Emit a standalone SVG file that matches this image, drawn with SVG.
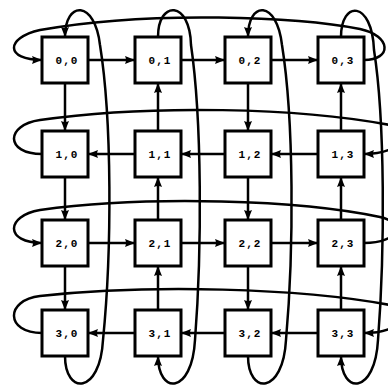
<svg xmlns="http://www.w3.org/2000/svg" width="388" height="388" viewBox="0 0 388 388">
<style>
.e{fill:none;stroke:#000;stroke-width:2.5;marker-end:url(#ah)}
.b{fill:#fff;stroke:#000;stroke-width:3}
.t{font-family:"Liberation Mono",monospace;font-weight:bold;font-size:11px;letter-spacing:1px;text-anchor:middle;fill:#000}
</style>
<defs>
<marker id="ah" markerUnits="userSpaceOnUse" markerWidth="11" markerHeight="9" refX="10" refY="4.5" orient="auto">
<path d="M0,0.5 L10,4.5 L0,8.5 Q2,4.5 0,0.5z" fill="#000"/>
</marker>
</defs>
<rect width="388" height="388" fill="#fff"/>
<g id="connectors">
<path class="e" d="M88,60 L135,60"/><path class="e" d="M181,60 L225,60"/><path class="e" d="M271,60 L318,60"/>
<path class="e" d="M135,154 L88,154"/><path class="e" d="M225,154 L181,154"/><path class="e" d="M318,154 L271,154"/>
<path class="e" d="M88,243 L135,243"/><path class="e" d="M181,243 L225,243"/><path class="e" d="M271,243 L318,243"/>
<path class="e" d="M135,333 L88,333"/><path class="e" d="M225,333 L181,333"/><path class="e" d="M318,333 L271,333"/>
<path class="e" d="M65,83 L65,131"/><path class="e" d="M65,177 L65,220"/><path class="e" d="M65,266 L65,310"/>
<path class="e" d="M158,131 L158,83"/><path class="e" d="M158,220 L158,177"/><path class="e" d="M158,310 L158,266"/>
<path class="e" d="M248,83 L248,131"/><path class="e" d="M248,177 L248,220"/><path class="e" d="M248,266 L248,310"/>
<path class="e" d="M341,131 L341,83"/><path class="e" d="M341,220 L341,177"/><path class="e" d="M341,310 L341,266"/>
<path class="e" d="M364,60 C392,60 392,36 360,29 C300,17 150,10 40,30 C5,38 5,60 42,60"/>
<path class="e" d="M42,154 C5,154 5,125 40,120 C150,104 300,108 390,125 C410,130 405,154 364,154"/>
<path class="e" d="M364,243 C400,243 405,222 380,217 C300,200 150,195 40,210 C5,216 5,243 42,243"/>
<path class="e" d="M42,333 C5,333 5,300 40,296 C150,284 300,288 390,305 C410,310 405,333 364,333"/>
<path class="e" d="M65,356 C65,395 100,395 103,340 C112,250 112,120 100,45 C95,0 65,0 65,37"/>
<path class="e" d="M158,37 C158,0 190,0 191,45 C202,120 202,250 195,340 C192,395 158,395 158,356"/>
<path class="e" d="M248,356 C248,395 283,395 286,340 C294,250 294,120 282,45 C277,0 248,0 248,37"/>
<path class="e" d="M341,37 C341,0 372,0 374,50 C385,120 385,250 378,340 C375,395 341,395 341,356"/>
</g>
<g id="n00"><rect class="b" x="42" y="37" width="46" height="46"/><text class="t" x="67" y="64">0,0</text></g>
<g id="n01"><rect class="b" x="135" y="37" width="46" height="46"/><text class="t" x="160" y="64">0,1</text></g>
<g id="n02"><rect class="b" x="225" y="37" width="46" height="46"/><text class="t" x="250" y="64">0,2</text></g>
<g id="n03"><rect class="b" x="318" y="37" width="46" height="46"/><text class="t" x="343" y="64">0,3</text></g>
<g id="n10"><rect class="b" x="42" y="131" width="46" height="46"/><text class="t" x="67" y="158">1,0</text></g>
<g id="n11"><rect class="b" x="135" y="131" width="46" height="46"/><text class="t" x="160" y="158">1,1</text></g>
<g id="n12"><rect class="b" x="225" y="131" width="46" height="46"/><text class="t" x="250" y="158">1,2</text></g>
<g id="n13"><rect class="b" x="318" y="131" width="46" height="46"/><text class="t" x="343" y="158">1,3</text></g>
<g id="n20"><rect class="b" x="42" y="220" width="46" height="46"/><text class="t" x="67" y="247">2,0</text></g>
<g id="n21"><rect class="b" x="135" y="220" width="46" height="46"/><text class="t" x="160" y="247">2,1</text></g>
<g id="n22"><rect class="b" x="225" y="220" width="46" height="46"/><text class="t" x="250" y="247">2,2</text></g>
<g id="n23"><rect class="b" x="318" y="220" width="46" height="46"/><text class="t" x="343" y="247">2,3</text></g>
<g id="n30"><rect class="b" x="42" y="310" width="46" height="46"/><text class="t" x="67" y="337">3,0</text></g>
<g id="n31"><rect class="b" x="135" y="310" width="46" height="46"/><text class="t" x="160" y="337">3,1</text></g>
<g id="n32"><rect class="b" x="225" y="310" width="46" height="46"/><text class="t" x="250" y="337">3,2</text></g>
<g id="n33"><rect class="b" x="318" y="310" width="46" height="46"/><text class="t" x="343" y="337">3,3</text></g>
</svg>
